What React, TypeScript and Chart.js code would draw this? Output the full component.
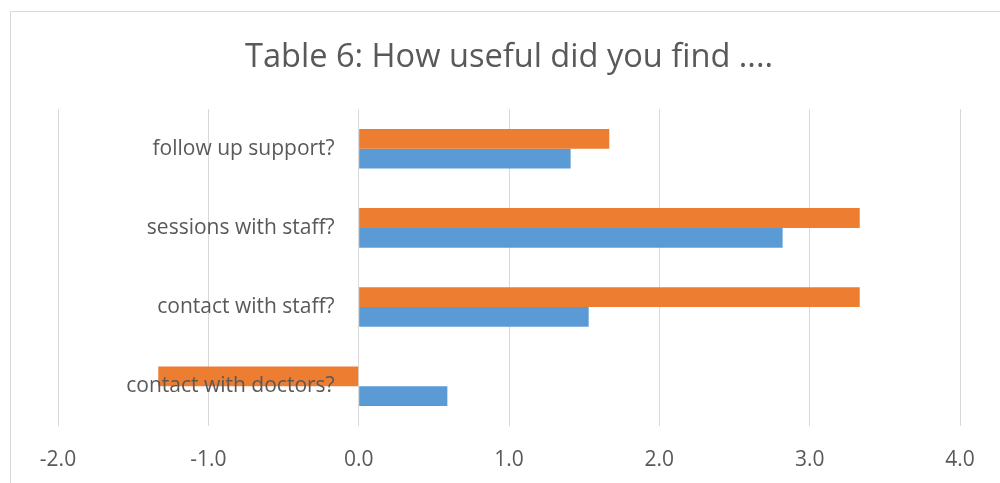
import React, { useEffect, useRef } from 'react';
import { Chart, registerables } from 'chart.js';

Chart.register(...registerables);

const chartTitle = 'Table 6: How useful did you find ....';
const categories = [
  'follow up support?',
  'sessions with staff?',
  'contact with staff?',
  'contact with doctors?',
];
const orangeValues = [1.667, 3.333, 3.333, -1.333];
const blueValues = [1.41, 2.82, 1.53, 0.59];
const xMin = -2;
const xMax = 4;
const xStep = 1;

const TEXT = '#595959';
const FONT = 'Open Sans';

// Category labels drawn next to the value axis at x = 0 (Excel "axis crosses at 0" style), above bars
const categoryLabelsAtZero = {
  id: 'categoryLabelsAtZero',
  afterDatasetsDraw(chart: any) {
    const { ctx, scales } = chart;
    const xs = scales.x;
    const ys = scales.y;
    const x0 = xs.getPixelForValue(0) - 24;
    ctx.save();
    ctx.fillStyle = TEXT;
    ctx.font = `21px "${FONT}"`;
    ctx.textAlign = 'right';
    ctx.textBaseline = 'middle';
    (chart.data.labels as string[]).forEach((lab, i) => {
      ctx.fillText(lab, x0, ys.getPixelForValue(i));
    });
    ctx.restore();
  },
};

export default function App() {
  const ref = useRef<HTMLCanvasElement>(null);

  useEffect(() => {
    if (!ref.current) return;
    const chart = new Chart(ref.current, {
      type: 'bar',
      data: {
        labels: categories,
        datasets: [
          {
            label: 'Series 2',
            data: orangeValues,
            backgroundColor: '#ED7D31',
            categoryPercentage: 0.5,
            barPercentage: 1,
          },
          {
            label: 'Series 1',
            data: blueValues,
            backgroundColor: '#5B9BD5',
            categoryPercentage: 0.5,
            barPercentage: 1,
          },
        ],
      },
      options: {
        indexAxis: 'y',
        responsive: false,
        animation: false,
        layout: { padding: { left: 58, right: 40, top: 0, bottom: -12 } },
        plugins: {
          legend: { display: false },
          tooltip: { enabled: false },
          title: {
            display: true,
            text: chartTitle,
            color: TEXT,
            font: { family: FONT, size: 32.6, weight: 'normal', lineHeight: 1.2 },
            padding: { top: 38, bottom: 32 },
          },
        },
        scales: {
          x: {
            type: 'linear',
            min: xMin,
            max: xMax,
            ticks: {
              stepSize: xStep,
              callback: (v: any) => Number(v).toFixed(1),
              color: TEXT,
              font: { family: FONT, size: 21 },
              padding: 22,
            },
            grid: { color: '#D9D9D9', drawTicks: false, lineWidth: 1 },
            border: { display: false },
          },
          y: {
            display: false,
          },
        },
      },
      plugins: [categoryLabelsAtZero],
    });
    return () => chart.destroy();
  }, []);

  return (
    <div
      style={{
        position: 'fixed',
        left: 0,
        top: 0,
        width: 1000,
        height: 483,
        overflow: 'hidden',
        background: '#fff',
      }}
    >
      <div
        style={{
          position: 'absolute',
          left: 10,
          top: 11,
          width: 1100,
          height: 600,
          border: '1px solid #D9D9D9',
          boxSizing: 'border-box',
        }}
      />
      <canvas
        ref={ref}
        width={1000}
        height={483}
        style={{ position: 'absolute', left: 0, top: 0, width: 1000, height: 483 }}
      />
    </div>
  );
}
